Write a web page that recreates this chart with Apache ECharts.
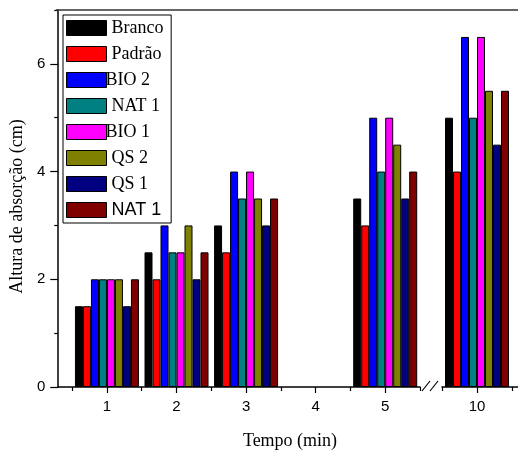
<!DOCTYPE html>
<html><head><meta charset="utf-8">
<script src="https://cdn.jsdelivr.net/npm/echarts@6/dist/echarts.min.js"></script>
<style>html,body{margin:0;padding:0;background:#fff}#c{width:518px;height:450px}</style>
</head><body><div id="c"></div>
<script>
// ---- data ----
const times = [1, 2, 3, 4, 5, 10];
const seriesNames = ['Branco', 'Padrão', 'BIO 2', 'NAT 1', 'BIO 1', 'QS 2', 'QS 1', 'NAT 1 '];
const branco = [1.5, 2.5, 3, null, 3.5, 5];
const padrao = [1.5, 2, 2.5, null, 3, 4];
const bio2 = [2, 3, 4, null, 5, 6.5];
const nat1 = [2, 2.5, 3.5, null, 4, 5];
const bio1 = [2, 2.5, 4, null, 5, 6.5];
const qs2 = [2, 3, 3.5, null, 4.5, 5.5];
const qs1 = [1.5, 2, 3, null, 3.5, 4.5];
const nat1b = [2, 2.5, 3.5, null, 4, 5.5];
const yTicks = [0, 2, 4, 6];
const yMinorTicks = [1, 3, 5, 7];
const xTicksMain = [1, 2, 3, 4, 5];
const xMinorMain = [0.5, 1.5, 2.5, 3.5, 4.5, 5.5];
const xTicksBreak = [10];
const xMinorBreak = [9.5, 10.5];

// ---- styles ----
const colors = ['#000000', '#ff0000', '#0000ff', '#008080', '#ff00ff', '#808000', '#000080', '#800000'];
const allValues = [branco, padrao, bio2, nat1, bio1, qs2, qs1, nat1b];
const SERIF = 'Liberation Serif, Times New Roman, serif';
const SANS = 'Liberation Sans, Arial, sans-serif';
const axisLine = { show: true, lineStyle: { color: '#000', width: 1.5 } };

const mainIdx = [0, 1, 2, 3, 4];
const breakIdx = [5];

const series = [];
seriesNames.forEach((name, s) => {
  const vals = allValues[s];
  series.push({
    name, type: 'bar', xAxisIndex: 0, yAxisIndex: 0,
    barWidth: 8, barGap: '0%',
    itemStyle: { color: colors[s], borderColor: '#000', borderWidth: 1 },
    data: mainIdx.map(i => [times[i], vals[i]])
  });
  series.push({
    name, type: 'bar', xAxisIndex: 2, yAxisIndex: 2,
    barWidth: 8, barGap: '0%',
    itemStyle: { color: colors[s], borderColor: '#000', borderWidth: 1 },
    data: breakIdx.map(i => [times[i], vals[i]])
  });
});

const legendData = seriesNames.map((n, s) => {
  const item = { name: n };
  if (s === 7) item.textStyle = { fontFamily: SANS };
  if (n.startsWith('BIO')) item.textStyle = { padding: [0, 0, 0, -6] };
  return item;
});

const chart = echarts.init(document.getElementById('c'), null, { renderer: 'canvas' });
chart.setOption({
  animation: false,
  backgroundColor: '#fff',
  grid: [
    { left: 56, top: 10, width: 364, height: 377 },
    { left: 442, top: 10, width: 76, height: 377 }
  ],
  xAxis: [
    { gridIndex: 0, type: 'value', min: 0.3, max: 5.5, position: 'bottom',
      axisLine, splitLine: { show: false },
      axisTick: { show: true, customValues: xTicksMain, length: 6, lineStyle: { color: '#000', width: 1.2 } },
      axisLabel: { customValues: xTicksMain, margin: 12, fontSize: 15, color: '#000', fontFamily: SANS } },
    { gridIndex: 0, type: 'value', min: 0.3, max: 5.5, position: 'bottom',
      axisLine: { show: false }, splitLine: { show: false },
      axisTick: { show: true, customValues: xMinorMain, length: 4, lineStyle: { color: '#000', width: 1.2 } },
      axisLabel: { show: false } },
    { gridIndex: 1, type: 'value', min: 9.5, max: 9.5 + 76 / 70, position: 'bottom',
      axisLine, splitLine: { show: false },
      axisTick: { show: true, customValues: xTicksBreak, length: 6, lineStyle: { color: '#000', width: 1.2 } },
      axisLabel: { customValues: xTicksBreak, margin: 12, fontSize: 15, color: '#000', fontFamily: SANS } },
    { gridIndex: 1, type: 'value', min: 9.5, max: 9.5 + 76 / 70, position: 'bottom',
      axisLine: { show: false }, splitLine: { show: false },
      axisTick: { show: true, customValues: xMinorBreak, length: 4, lineStyle: { color: '#000', width: 1.2 } },
      axisLabel: { show: false } }
  ],
  yAxis: [
    { gridIndex: 0, type: 'value', min: 0, max: 7, position: 'left',
      axisLine, splitLine: { show: false },
      axisTick: { show: true, customValues: yTicks, length: 8, lineStyle: { color: '#000', width: 1.2 } },
      axisLabel: { customValues: yTicks, margin: 13, fontSize: 15, color: '#000', fontFamily: SANS },
      name: 'Altura de absorção (cm)', nameLocation: 'middle', nameGap: 32,
      nameTextStyle: { fontFamily: SERIF, fontSize: 18, color: '#000', padding: [0, 0, 0, -16] } },
    { gridIndex: 0, type: 'value', min: 0, max: 7, position: 'left',
      axisLine: { show: false }, splitLine: { show: false },
      axisTick: { show: true, customValues: yMinorTicks, length: 4, lineStyle: { color: '#000', width: 1.2 } },
      axisLabel: { show: false } },
    { gridIndex: 1, type: 'value', min: 0, max: 7, show: false }
  ],
  legend: {
    orient: 'vertical', left: 63, top: 15,
    itemWidth: 40, itemHeight: 15, itemGap: 8,
    padding: [4, 5, 4, 3],
    borderColor: '#000', borderWidth: 1, backgroundColor: '#fff',
    icon: 'rect', selectedMode: false,
    itemStyle: { borderColor: '#000', borderWidth: 1 },
    textStyle: { fontFamily: SERIF, fontSize: 18, color: '#000', lineHeight: 16 },
    data: legendData
  },
  graphic: [
    { type: 'line', shape: { x1: 56, y1: 10, x2: 518, y2: 10 }, style: { stroke: '#333', lineWidth: 1.5 }, z: 100 },
    { type: 'line', shape: { x1: 422, y1: 391, x2: 430, y2: 381 }, style: { stroke: '#000', lineWidth: 1.2 }, z: 100 },
    { type: 'line', shape: { x1: 430, y1: 391, x2: 438, y2: 381 }, style: { stroke: '#000', lineWidth: 1.2 }, z: 100 },
    { type: 'text', x: 290, y: 441, style: { text: 'Tempo (min)', font: '18px ' + SERIF, fill: '#000', textAlign: 'center', textVerticalAlign: 'middle' }, z: 100 }
  ],
  series
});
</script></body></html>
